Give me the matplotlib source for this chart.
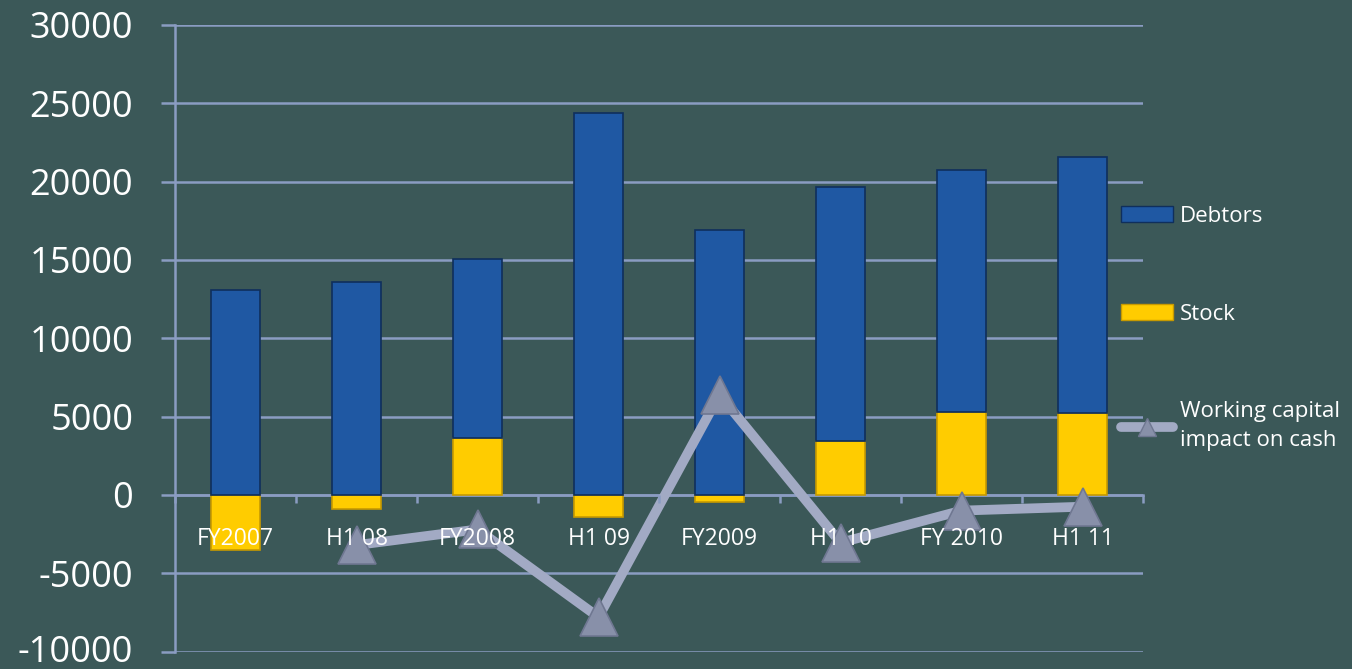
import numpy as np
import matplotlib
matplotlib.use("Agg")
import matplotlib.pyplot as plt
import matplotlib.transforms as mtransforms
from matplotlib.patches import Patch
from matplotlib.lines import Line2D

plt.rcParams['font.family'] = ['Open Sans', 'DejaVu Sans']
plt.rcParams['axes.unicode_minus'] = False

categories = ["FY2007", "H1 08", "FY2008", "H1 09", "FY2009", "H1 10", "FY 2010", "H1 11"]
stock = [-3500, -900, 3650, -1400, -450, 3450, 5300, 5200]
debtors = [13100, 13600, 11400, 24400, 16900, 16200, 15450, 16400]
wc_impact = [np.nan, -3200, -2200, -7800, 6400, -3050, -1000, -750]

bg = '#3b5858'
grid_col = '#8a9cc2'
blue = '#1f58a3'
yellow = '#ffcc00'
line_col = '#a2aac4'

fig = plt.figure(figsize=(13.52, 6.69), dpi=100, facecolor=bg)
ax = fig.add_axes([175/1352, 1 - 651.6/669, (1143-175)/1352, (651.6-25)/669])
ax.set_facecolor(bg)

x = np.arange(len(categories))
stock = np.array(stock)
debtors = np.array(debtors)
# positives stack from zero, negatives hang below
debt_base = np.where(stock > 0, stock, 0)

ax.bar(x, stock, width=0.405, color=yellow, edgecolor='#c79a00', linewidth=1.2, zorder=3)
ax.bar(x, debtors, bottom=debt_base, width=0.405, color=blue, edgecolor='#0f2f5c',
       linewidth=1.2, zorder=3)
ax.plot(x, wc_impact, color=line_col, lw=7, zorder=4, solid_capstyle='round',
        marker='^', markersize=28, markerfacecolor='#8890a9', markeredgecolor='#6f7791',
        markeredgewidth=1.2)

ax.set_xlim(-0.5, 7.5)
ax.set_ylim(-10000, 30000)
ax.set_yticks(np.arange(-10000, 30001, 5000))
ax.yaxis.grid(True, color=grid_col, lw=1.8, zorder=0)
ax.set_axisbelow(True)

for s in ['top', 'right']:
    ax.spines[s].set_visible(False)
ax.spines['left'].set_color(grid_col)
ax.spines['left'].set_linewidth(1.8)
ax.spines['bottom'].set_position(('data', 0))
ax.spines['bottom'].set_color(grid_col)
ax.spines['bottom'].set_linewidth(1.8)
ax.spines['bottom'].set_zorder(2)

ax.tick_params(axis='y', colors=grid_col, length=10, width=1.8, labelcolor='white',
               labelsize=26, pad=20)
ax.set_xticks(x)
ax.set_xticklabels(categories)
ax.set_xticks(np.arange(-0.5, 8, 1), minor=True)
ax.tick_params(axis='x', which='major', length=0, labelcolor='white', labelsize=16.5, pad=23)
ax.tick_params(axis='x', which='minor', length=6, width=1.8, color=grid_col, direction='out')
# category labels sit over the bars and the line
ax.xaxis.set_zorder(5)

# nudge the lowest y label up a little so it stays inside the canvas
fig.canvas.draw()
low = ax.get_yticklabels()[0]
low.set_transform(low.get_transform() + mtransforms.ScaledTranslation(0, 3/100, fig.dpi_scale_trans))

handles = [
    Patch(facecolor=blue, edgecolor='#0f2f5c'),
    Patch(facecolor=yellow, edgecolor='#c79a00'),
    Line2D([], [], color=line_col, lw=7, solid_capstyle='round', marker='^', markersize=13,
           markerfacecolor='#8890a9', markeredgecolor='#6f7791'),
]
labels = ["Debtors", "Stock", "Working capital\nimpact on cash"]
leg = fig.legend(handles, labels, loc='upper left', bbox_to_anchor=(1121/1352, 1 - 206/669),
                 frameon=False, fontsize=16, labelcolor='white', borderpad=0, borderaxespad=0,
                 handlelength=2.35, handleheight=0.7, handletextpad=0.3, labelspacing=3.45)
for t in leg.get_texts():
    t.set_linespacing(1.5)

fig.savefig('out.png', dpi=100, facecolor=bg)
